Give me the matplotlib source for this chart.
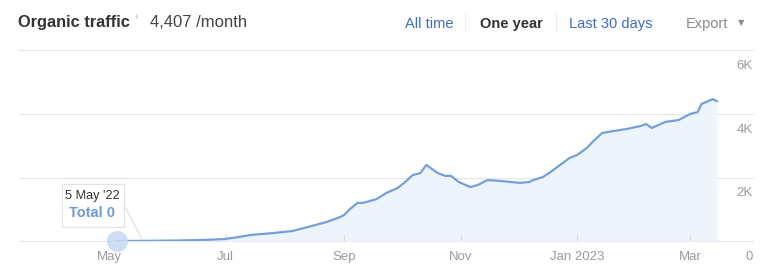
import matplotlib
matplotlib.use("Agg")
import matplotlib.pyplot as plt
import matplotlib.dates as mdates
from matplotlib.patches import Rectangle
from matplotlib.lines import Line2D
import pandas as pd

plt.rcParams['font.family'] = ['Liberation Sans', 'DejaVu Sans']

# ---- data ----
dates = ["2022-05-05", "2022-05-20", "2022-06-05", "2022-06-20", "2022-06-30",
         "2022-07-08", "2022-07-14", "2022-07-26", "2022-08-05", "2022-08-13",
         "2022-08-23", "2022-08-30", "2022-09-01", "2022-09-04", "2022-09-08",
         "2022-09-11", "2022-09-18", "2022-09-23", "2022-09-29", "2022-10-03",
         "2022-10-07", "2022-10-11", "2022-10-14", "2022-10-20", "2022-10-24",
         "2022-10-27", "2022-10-31", "2022-11-06", "2022-11-10", "2022-11-15",
         "2022-11-22", "2022-11-27", "2022-12-02", "2022-12-07", "2022-12-09",
         "2022-12-14", "2022-12-18", "2022-12-23", "2022-12-28", "2023-01-01",
         "2023-01-06", "2023-01-09", "2023-01-14", "2023-01-20", "2023-01-27",
         "2023-02-03", "2023-02-06", "2023-02-09", "2023-02-16", "2023-02-23",
         "2023-03-01", "2023-03-05", "2023-03-07", "2023-03-13", "2023-03-15"]
traffic = [0, 5, 15, 35, 60,
           126, 190, 250, 315, 440,
           600, 755, 820, 1000, 1200,
           1200, 1320, 1510, 1670, 1860,
           2080, 2140, 2395, 2140, 2050,
           2050, 1860, 1700, 1765, 1920,
           1890, 1860, 1830, 1860, 1920,
           2015, 2170, 2395, 2615, 2710,
           2930, 3120, 3400, 3465, 3530,
           3620, 3685, 3560, 3750, 3810,
           4000, 4060, 4315, 4470, 4407]
tick_dates = ["2022-05-01", "2022-07-01", "2022-09-01", "2022-11-01", "2023-01-01", "2023-03-01"]
tick_labels = ["May", "Jul", "Sep", "Nov", "Jan 2023", "Mar"]
y_ticks = [0, 2000, 4000, 6000]
y_labels = ["0", "2K", "4K", "6K"]
buttons = ["All time", "One year", "Last 30 days", "Export"]

W, H = 768, 279
fig = plt.figure(figsize=(W / 100, H / 100), dpi=100)

def fx(x):
    return x / W

def fy(y):
    return 1 - y / H

# axes spanning pixels x 20..753, y 50.5..241
ax = fig.add_axes([fx(20), fy(241), fx(753) - fx(20), (241 - 50.5) / H])
d = pd.to_datetime(dates)
td = pd.to_datetime(tick_dates)
may1 = mdates.date2num(td[0])
ppd = (690 - 109) / (mdates.date2num(td[-1]) - may1)
ax.set_xlim(may1 - (109 - 20) / ppd, may1 + (753 - 109) / ppd)
ax.set_ylim(0, 6000)

line_c = '#74a0d9'
ax.fill_between(d, traffic, 0, color='#eef4fc', lw=0, zorder=1)
ax.plot(d, traffic, color=line_c, lw=1.6, zorder=3, solid_joinstyle='round')

for v in y_ticks[:-1]:
    ax.axhline(v, color='#e6e6e6', lw=0.9, zorder=0, clip_on=False)

for s in ax.spines.values():
    s.set_visible(False)
ax.set_yticks([])
ax.set_xticks(mdates.date2num(td))
ax.set_xticklabels(tick_labels, fontsize=9.5, color='#9a9a9a')
ax.tick_params(axis='x', direction='in', length=5, width=0.8, color='#dddddd', pad=7)

for v, lab in zip(y_ticks, y_labels):
    ax.text(1.0, v - 300, lab, transform=ax.get_yaxis_transform(), ha='right', va='top',
            fontsize=9.5, color='#9a9a9a', clip_on=False)

# highlight circle
ax.scatter([d[0]], [traffic[0]], s=230, color='#c7d9f3', alpha=0.85, zorder=4, lw=0,
           clip_on=False)

# tooltip connector
fig.add_artist(Line2D([fx(125), fx(142)], [fy(207), fy(239)], color='#e0e0e0', lw=0.8))
# tooltip box
fig.add_artist(Rectangle((fx(62), fy(227)), fx(124) - fx(62), (227 - 184) / H,
                         facecolor='white', edgecolor='#e3e3e3', lw=0.8, zorder=5))
fig.text(fx(92), fy(199), "5 May '22", ha='center', va='baseline', fontsize=9.2,
         color='#333333', zorder=6)
fig.text(fx(92), fy(217), "Total 0", ha='center', va='baseline', fontsize=10.5,
         color='#6f9ad6', fontweight='bold', zorder=6)

# header
fig.text(fx(18), fy(27), "Organic traffic", ha='left', va='baseline', fontsize=11.8,
         fontweight='bold', color='#333333')
fig.text(fx(136), fy(19), "i", ha='left', va='baseline', fontsize=6, color='#aaaaaa')
fig.text(fx(150), fy(27), "4,407 /month", ha='left', va='baseline', fontsize=12,
         color='#444444')

blue = '#3b6cc5'
fig.text(fx(429), fy(28), buttons[0], ha='center', va='baseline', fontsize=10.5, color=blue)
fig.text(fx(511), fy(28), buttons[1], ha='center', va='baseline', fontsize=10.5,
         color='#333333', fontweight='bold')
fig.text(fx(611), fy(28), buttons[2], ha='center', va='baseline', fontsize=10.5, color=blue)
fig.text(fx(707), fy(28), buttons[3], ha='center', va='baseline', fontsize=10.5, color='#8a8a8a')
fig.text(fx(741), fy(23), "▼", ha='center', va='center', fontsize=6, color='#8a8a8a',
         family=['DejaVu Sans'])
for sx in (465, 556):
    fig.add_artist(Line2D([fx(sx), fx(sx)], [fy(14), fy(32)], color='#eeeeee', lw=0.8))
fig.add_artist(Line2D([fx(18), fx(753)], [fy(50), fy(50)], color='#e6e6e6', lw=0.9))

fig.savefig("out.png", dpi=100, facecolor='white')
